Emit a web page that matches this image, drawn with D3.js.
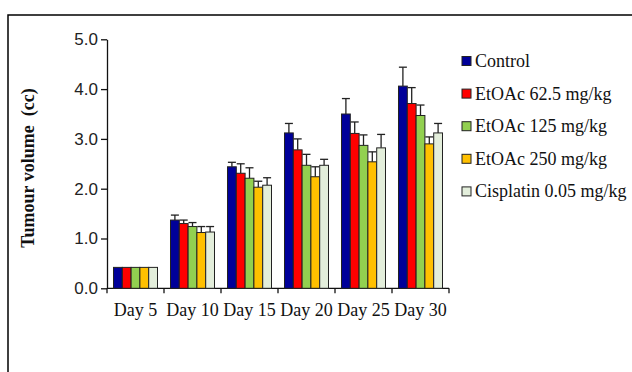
<!DOCTYPE html>
<html><head><meta charset="utf-8">
<script src="https://cdn.jsdelivr.net/npm/d3@7"></script>
<style>
html,body{margin:0;padding:0;background:#fff;}
svg{display:block;}
</style></head>
<body>
<svg id="chart" width="632" height="372"></svg>
<script>
const days = ["Day 5","Day 10","Day 15","Day 20","Day 25","Day 30"];
const seriesNames = ["Control","EtOAc 62.5 mg/kg","EtOAc 125 mg/kg","EtOAc 250 mg/kg","Cisplatin 0.05 mg/kg"];
const seriesColors = ["#000099","#ff0000","#92d050","#ffc000","#e3eedb"];
const control   = [0.42, 1.37, 2.44, 3.12, 3.50, 4.06];
const etoac625  = [0.42, 1.30, 2.31, 2.78, 3.11, 3.71];
const etoac125  = [0.42, 1.24, 2.21, 2.47, 2.87, 3.47];
const etoac250  = [0.42, 1.12, 2.03, 2.24, 2.54, 2.90];
const cisplatin = [0.42, 1.13, 2.07, 2.47, 2.82, 3.12];
const controlErr   = [0, 0.10, 0.09, 0.19, 0.31, 0.38];
const etoac625Err  = [0, 0.07, 0.19, 0.22, 0.23, 0.32];
const etoac125Err  = [0, 0.08, 0.21, 0.22, 0.21, 0.21];
const etoac250Err  = [0, 0.12, 0.12, 0.20, 0.20, 0.14];
const cisplatinErr = [0, 0.11, 0.15, 0.12, 0.27, 0.19];
const yTicks = [0,1,2,3,4,5];

const values = [control, etoac625, etoac125, etoac250, cisplatin];
const errors = [controlErr, etoac625Err, etoac125Err, etoac250Err, cisplatinErr];

const svg = d3.select("#chart");

// outer frame (cropped at right/bottom)
svg.append("rect").attr("x",8).attr("y",15).attr("width",700).attr("height",420)
  .attr("fill","none").attr("stroke","#000").attr("stroke-width",1.5);

const x0 = d3.scaleBand().domain(days).range([107,449]).paddingInner(0.228).paddingOuter(0.114);
const x1 = d3.scaleBand().domain(seriesNames).range([0,x0.bandwidth()]);
const y = d3.scaleLinear().domain([0,5]).range([288.3,39.3]);

// y axis
const yAxis = svg.append("g").attr("transform","translate(107,0)")
  .call(d3.axisLeft(y).tickValues(yTicks).tickFormat(d3.format(".1f")).tickSize(6).tickSizeOuter(0));
yAxis.select(".domain").attr("stroke","#111").attr("stroke-width",1.3);
yAxis.selectAll(".tick line").attr("stroke","#111").attr("stroke-width",1.3);
yAxis.selectAll(".tick text").attr("font-family","'Liberation Sans', Arial, sans-serif")
  .attr("font-size",17).attr("fill","#222").attr("x",-9);

// x axis
const xg = svg.append("g").attr("transform","translate(0,288.3)");
xg.append("line").attr("x1",107).attr("x2",449).attr("stroke","#111").attr("stroke-width",1.3);
const step = x0.step();
const bounds = d3.range(days.length+1).map(i => x0.range()[0] + i*step);
xg.selectAll("line.tk").data(bounds).join("line").attr("class","tk")
  .attr("x1",d=>d).attr("x2",d=>d).attr("y1",0).attr("y2",5)
  .attr("stroke","#111").attr("stroke-width",1.3);
xg.selectAll("text").data(days).join("text")
  .attr("x",d=>x0(d)+x0.bandwidth()/2).attr("y",28)
  .attr("text-anchor","middle")
  .attr("font-family","'Liberation Serif','Times New Roman',serif")
  .attr("font-size",18).attr("fill","#111").text(d=>d);

// bars
const groups = svg.append("g").selectAll("g").data(days).join("g")
  .attr("transform",d=>`translate(${x0(d)},0)`);
groups.each(function(day, di){
  const g = d3.select(this);
  seriesNames.forEach((s, si) => {
    const v = values[si][di], e = errors[si][di];
    const bx = x1(s), bw = x1.bandwidth();
    if (e > 0) {
      const cx = bx + bw/2;
      g.append("line").attr("x1",cx).attr("x2",cx).attr("y1",y(v)).attr("y2",y(v+e))
        .attr("stroke","#222").attr("stroke-width",1.3);
      g.append("line").attr("x1",cx-4).attr("x2",cx+4).attr("y1",y(v+e)).attr("y2",y(v+e))
        .attr("stroke","#222").attr("stroke-width",1.3);
    }
    g.append("rect").attr("x",bx).attr("y",y(v)).attr("width",bw).attr("height",y(0)-y(v))
      .attr("fill",seriesColors[si]).attr("stroke","#222").attr("stroke-width",1);
  });
});

// y title
svg.append("text").attr("transform","translate(34,168) rotate(-90)")
  .attr("text-anchor","middle")
  .attr("font-family","'Liberation Serif','Times New Roman',serif")
  .attr("font-weight","bold").attr("font-size",18).attr("fill","#111")
  .attr("xml:space","preserve")
  .text("Tumour volume  (cc)");

// legend
const leg = svg.append("g").selectAll("g").data(seriesNames).join("g")
  .attr("transform",(d,i)=>`translate(462,${61 + i*32.6})`);
leg.append("rect").attr("x",0).attr("y",-4.5).attr("width",9).attr("height",9)
  .attr("fill",(d,i)=>seriesColors[i]).attr("stroke","#222").attr("stroke-width",1);
leg.append("text").attr("x",13).attr("y",6)
  .attr("font-family","'Liberation Serif','Times New Roman',serif")
  .attr("font-size",18).attr("fill","#111").text(d=>d);
</script>
</body></html>
